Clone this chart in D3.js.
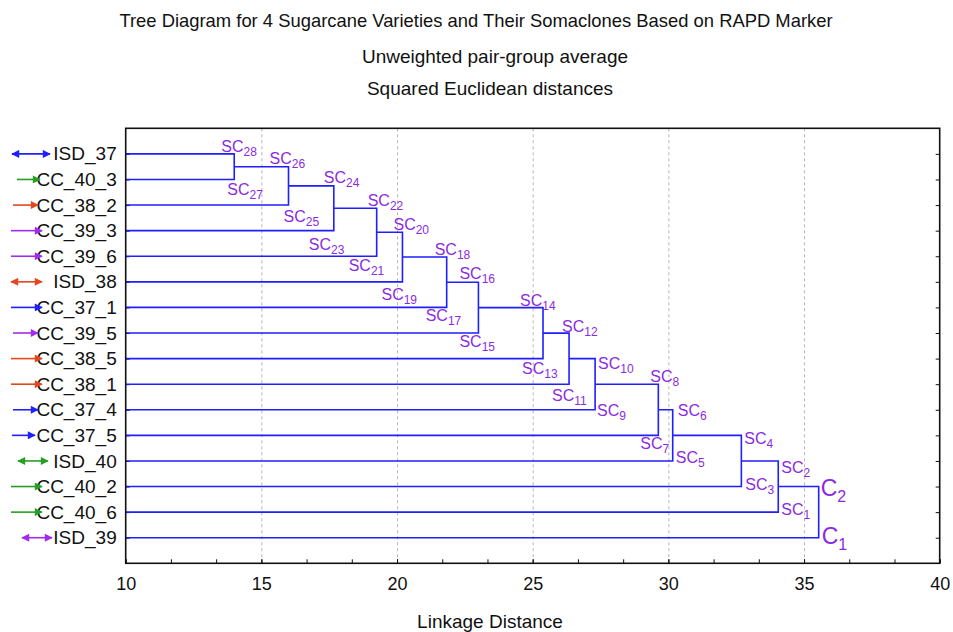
<!DOCTYPE html>
<html>
<head>
<meta charset="utf-8">
<script src="https://cdn.jsdelivr.net/npm/d3@7"></script>
<style>
  body { margin: 0; background: #fff; }
  text { font-family: "Liberation Sans", Arial, sans-serif; }
</style>
</head>
<body>
<svg id="svg" width="953" height="632"></svg>
<script>
// leaves, top to bottom
const leaves = ["ISD_37", "CC_40_3", "CC_38_2", "CC_39_3", "CC_39_6", "ISD_38", "CC_37_1", "CC_39_5",
    "CC_38_5", "CC_38_1", "CC_37_4", "CC_37_5", "ISD_40", "CC_40_2", "CC_40_6", "ISD_39"]
// linkage distance of each join (cluster so far + next leaf)
const linkage = [14.0, 16.0, 17.67, 19.25, 20.2, 21.83, 23.0, 25.38, 26.34, 27.3, 29.63, 30.16, 32.69, 34.05, 35.54]
// labels put on the upper / lower branch of every join
const upperNames = [["SC", "28"], ["SC", "26"], ["SC", "24"], ["SC", "22"], ["SC", "20"], ["SC", "18"], ["SC", "16"],
    ["SC", "14"], ["SC", "12"], ["SC", "10"], ["SC", "8"], ["SC", "6"], ["SC", "4"], ["SC", "2"], ["C", "2"]]
const lowerNames = [["SC", "27"], ["SC", "25"], ["SC", "23"], ["SC", "21"], ["SC", "19"], ["SC", "17"], ["SC", "15"],
    ["SC", "13"], ["SC", "11"], ["SC", "9"], ["SC", "7"], ["SC", "5"], ["SC", "3"], ["SC", "1"], ["C", "1"]]
const xTicks = [10, 15, 20, 25, 30, 35, 40]
const gridTicks = [15, 20, 25, 30, 35]

// hand placement of the branch labels (dx from the join, dy from the branch)
const upperNudge = [[-13, -2], [-19, -3], [-10, -3], [-9, -2], [-9, -2], [-12, -2], [-19, -3], [-23, -2],
    [-7, -1], [3, 10], [-8, -2], [5, 6], [3, 9], [3, 12], [2, 9]]
const lowerNudge = [[-7, 16], [-5, 17], [-25, 19], [-28, 15], [-21, 18], [-21, 14], [-19, 14], [-21, 15],
    [-17, 17], [2, 6], [-18, 14], [3, 2], [4, 3], [3, 3], [3, 6]]
// arrow extents left of the leaf labels
const arrowSpan = [[12, 50], [17, 40], [13, 38], [11, 42], [11, 42], [11, 42], [11, 42], [13, 38],
    [11, 42], [11, 42], [13, 38], [12, 35], [18, 48], [11, 42], [11, 42], [22, 52]]
const groupColor = { "37": "#1f1fff", "38": "#e2481c", "39": "#a12cf0", "40": "#24a024" }

const pLeft = 125.7, pRight = 939.7, pTop = 128.3, pBottom = 563.3
const svg = d3.select('#svg')

const x = d3.scaleLinear().domain([10, 40]).range([pLeft, pRight])
const y = d3.scalePoint().domain(leaves).range([pTop, pBottom]).padding(1)

// titles
const titles = [
    { t: "Tree Diagram for 4 Sugarcane Varieties and Their Somaclones Based on RAPD Marker", x: 476, y: 26.5, s: 18.4 },
    { t: "Unweighted pair-group average", x: 495, y: 62.5, s: 19 },
    { t: "Squared Euclidean distances", x: 490, y: 95, s: 19 }
]
svg.selectAll('.title')
    .data(titles)
    .enter()
    .append('text')
    .attr('class', 'title')
    .attr('x', (d) => d.x)
    .attr('y', (d) => d.y)
    .attr('text-anchor', 'middle')
    .style('font-size', (d) => d.s + 'px')
    .attr('fill', '#111')
    .text((d) => d.t)

// dashed grid
svg.append('g')
    .attr('transform', `translate(0,${pBottom})`)
    .call(d3.axisBottom(x).tickValues(gridTicks).tickSize(-(pBottom - pTop)).tickFormat(''))
    .call((g) => g.select('.domain').remove())
    .selectAll('line')
    .attr('stroke', '#b5b5b5')
    .attr('stroke-dasharray', '3,3')

// minor ticks
svg.append('g')
    .attr('transform', `translate(0,${pBottom})`)
    .call(d3.axisBottom(x).tickValues(d3.range(0, 19).map((i) => 10 + i * 5 / 3)).tickSize(-4).tickFormat(''))
    .call((g) => g.select('.domain').remove())
    .selectAll('line').attr('stroke', '#111')

// x axis
const xa = svg.append('g')
    .attr('transform', `translate(0,${pBottom})`)
    .call(d3.axisBottom(x).tickValues(xTicks).tickSize(-4).tickPadding(14).tickFormat(d3.format('d')))
xa.select('.domain').remove()
xa.selectAll('line').attr('stroke', '#111')
xa.selectAll('text')
    .style('font-size', '18px')
    .attr('fill', '#111')

svg.append('text')
    .attr('x', 490)
    .attr('y', 628)
    .attr('text-anchor', 'middle')
    .style('font-size', '19px')
    .attr('fill', '#111')
    .text('Linkage Distance')

// y axis (leaf labels)
const ya = svg.append('g')
    .attr('transform', `translate(${pLeft},0)`)
    .call(d3.axisLeft(y).tickSize(-4).tickPadding(9))
ya.select('.domain').remove()
ya.selectAll('line').attr('stroke', '#111')
ya.selectAll('text')
    .style('font-size', '19px')
    .attr('fill', '#111')

// right side ticks
svg.append('g')
    .attr('transform', `translate(${pRight},0)`)
    .call(d3.axisRight(y).tickSize(-4).tickFormat(''))
    .call((g) => g.select('.domain').remove())
    .selectAll('line').attr('stroke', '#111')

// arrows beside the leaf labels
const defs = svg.append('defs')
Object.entries(groupColor).forEach(([k, c]) => {
    defs.append('marker')
        .attr('id', 'arr' + k)
        .attr('viewBox', '0 0 10 10')
        .attr('refX', 9)
        .attr('refY', 5)
        .attr('markerWidth', 9)
        .attr('markerHeight', 8)
        .attr('markerUnits', 'userSpaceOnUse')
        .attr('orient', 'auto-start-reverse')
        .append('path')
        .attr('d', 'M0,0 L10,5 L0,10 Z')
        .attr('fill', c)
})
svg.append('g')
    .selectAll('line')
    .data(leaves)
    .enter()
    .append('line')
    .attr('x1', (d, i) => arrowSpan[i][0])
    .attr('x2', (d, i) => arrowSpan[i][1])
    .attr('y1', (d) => y(d))
    .attr('y2', (d) => y(d))
    .attr('stroke', (d) => groupColor[d.match(/\d\d/)[0]])
    .attr('stroke-width', 1.6)
    .attr('marker-end', (d) => `url(#arr${d.match(/\d\d/)[0]})`)
    .attr('marker-start', (d) => d.startsWith('ISD') ? `url(#arr${d.match(/\d\d/)[0]})` : null)

// build the joins
const joins = []
let upper = { x: x(10), y: y(leaves[0]) }
linkage.forEach((h, i) => {
    const lower = { x: x(10), y: y(leaves[i + 1]) }
    joins.push({ h, upper, lower, i })
    upper = { x: x(h), y: (upper.y + lower.y) / 2 }
})

svg.append('g')
    .selectAll('path')
    .data(joins)
    .enter()
    .append('path')
    .attr('d', (d) => `M${d.upper.x},${d.upper.y}H${x(d.h)}V${d.lower.y}H${d.lower.x}`)
    .attr('fill', 'none')
    .attr('stroke', '#1f1fff')
    .attr('stroke-width', 1.6)

// frame
svg.append('rect')
    .attr('x', pLeft)
    .attr('y', pTop)
    .attr('width', pRight - pLeft)
    .attr('height', pBottom - pTop)
    .attr('fill', 'none')
    .attr('stroke', '#111')
    .attr('stroke-width', 1.6)

// branch labels
function addLabel(g, name, px, py, big) {
    const t = g.append('text')
        .attr('x', px)
        .attr('y', py)
        .attr('fill', '#8a2be2')
        .style('font-size', big ? '23px' : '16px')
    t.append('tspan').text(name[0])
    t.append('tspan')
        .attr('dy', big ? 6 : 4)
        .style('font-size', big ? '16px' : '12px')
        .text(name[1])
}
const lg = svg.append('g')
joins.forEach((d, i) => {
    const hx = x(d.h)
    addLabel(lg, upperNames[i], hx + upperNudge[i][0], d.upper.y + upperNudge[i][1], i === 14)
    addLabel(lg, lowerNames[i], hx + lowerNudge[i][0], d.lower.y + lowerNudge[i][1], i === 14)
})
</script>
</body>
</html>
